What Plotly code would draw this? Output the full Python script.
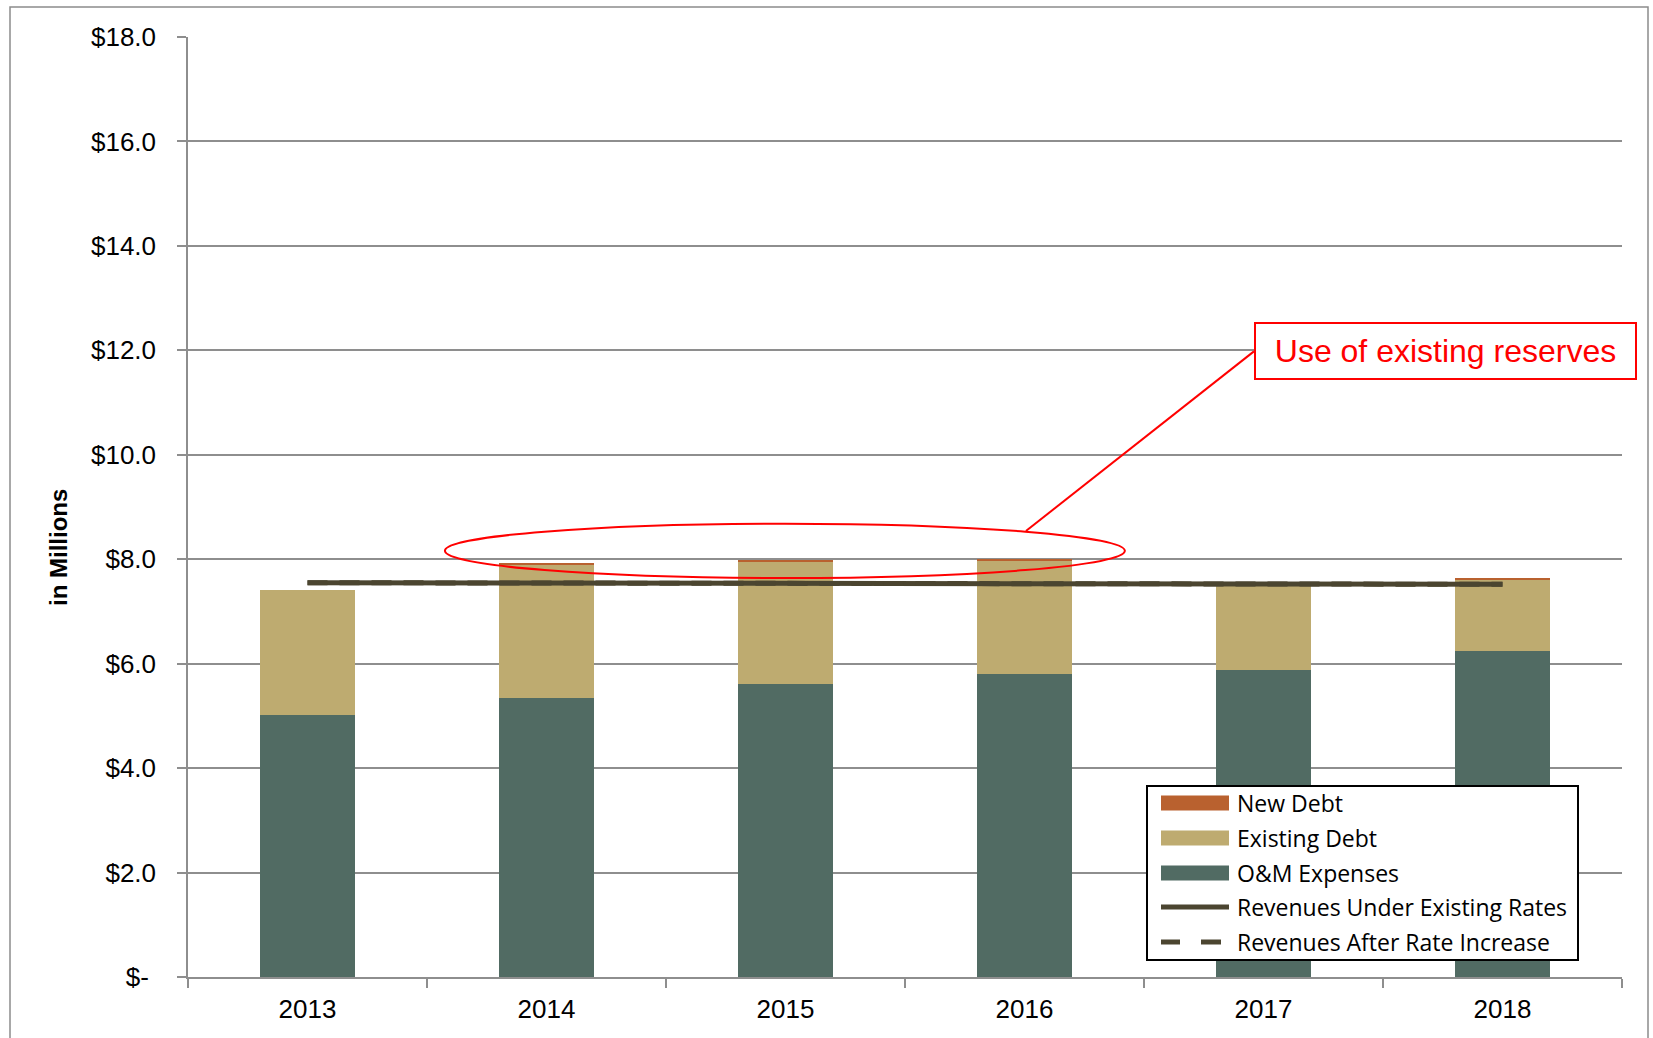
import plotly.graph_objects as go

# Cost components and revenues, in millions of dollars
years = ["2013", "2014", "2015", "2016", "2017", "2018"]
om_expenses = [5.02, 5.35, 5.61, 5.80, 5.88, 6.25]
existing_debt = [2.39, 2.55, 2.34, 2.17, 1.62, 1.37]
new_debt = [0.00, 0.02, 0.02, 0.02, 0.01, 0.03]
rev_existing_rates = [7.55, 7.54, 7.53, 7.53, 7.53, 7.52]
rev_after_increase = [7.55, 7.54, 7.53, 7.53, 7.53, 7.52]

y_tickvals = [0, 2, 4, 6, 8, 10, 12, 14, 16, 18]
y_ticktext = ["$-\u00a0", "$2.0", "$4.0", "$6.0", "$8.0", "$10.0",
              "$12.0", "$14.0", "$16.0", "$18.0"]

y_title = "in Millions"
callout_text = "Use of existing reserves"

C_OM = "#516B63"
C_EXIST = "#BEAB70"
C_NEW = "#B9612F"
C_REV = "#4B4530"
C_GRID = "#8E8E8E"

W, H = 1653, 1038
ML, MR, MT, MB = 188, 31, 37, 61
PW, PH = W - ML - MR, H - MT - MB


def px(x):
    """Horizontal page pixel -> paper fraction."""
    return (x - ML) / PW


def py(y):
    """Vertical page pixel -> paper fraction."""
    return (H - MB - y) / PH


fig = go.Figure()

fig.add_trace(go.Bar(x=years, y=om_expenses, name="O&M Expenses",
                     marker=dict(color=C_OM, line=dict(width=0)), width=0.4))
fig.add_trace(go.Bar(x=years, y=existing_debt, name="Existing Debt",
                     marker=dict(color=C_EXIST, line=dict(width=0)), width=0.4))
fig.add_trace(go.Bar(x=years, y=new_debt, name="New Debt",
                     marker=dict(color=C_NEW, line=dict(width=0)), width=0.4))
fig.add_trace(go.Scatter(x=years, y=rev_existing_rates, mode="lines",
                         name="Revenues Under Existing Rates",
                         line=dict(color=C_REV, width=5)))
fig.add_trace(go.Scatter(x=years, y=rev_after_increase, mode="lines",
                         name="Revenues After Rate Increase",
                         line=dict(color=C_REV, width=5, dash="20px,12px")))

tick_font = dict(family="Arial, Liberation Sans, sans-serif", size=26, color="#000000")

fig.update_layout(
    width=W, height=H,
    margin=dict(l=ML, r=MR, t=MT, b=MB),
    paper_bgcolor="white", plot_bgcolor="white",
    barmode="stack", bargap=0.6,
    showlegend=False,
    xaxis=dict(
        type="category", range=[-0.5, 5.5],
        showline=True, linecolor=C_GRID, linewidth=1.5,
        ticks="outside", tickson="boundaries", ticklen=9, tickwidth=1.5,
        tickcolor=C_GRID, tickfont=tick_font, ticklabelstandoff=8,
        showgrid=False, zeroline=False,
    ),
    yaxis=dict(
        range=[0, 18], tickvals=y_tickvals, ticktext=y_ticktext,
        showline=True, linecolor=C_GRID, linewidth=1.5,
        ticks="outside", ticklen=9, tickwidth=1.5, tickcolor=C_GRID,
        tickfont=tick_font, ticklabelstandoff=16,
        showgrid=True, gridcolor=C_GRID, gridwidth=1.5, zeroline=False,
    ),
)

shapes = []
annotations = []

# outer chart frame
shapes.append(dict(type="rect", xref="paper", yref="paper",
                   x0=px(10), x1=px(1648), y0=py(1060), y1=py(7),
                   line=dict(color="#8C8C8C", width=1.5), layer="below"))

# vertical axis title
annotations.append(dict(
    xref="paper", yref="paper", x=px(58), y=py(548),
    xanchor="center", yanchor="middle", showarrow=False, textangle=-90,
    text="<b>" + y_title + "</b>",
    font=dict(family="Arial, Liberation Sans, sans-serif", size=24, color="#000000"),
))

# highlight ellipse around the 2014-2016 bar tops and its leader line
shapes.append(dict(type="circle", xref="x", yref="y",
                   x0=0.575, x1=3.42, y0=7.64, y1=8.68,
                   line=dict(color="#FF0000", width=2)))
shapes.append(dict(type="line", xref="x", yref="y",
                   x0=3.006, y0=8.54, x1=3.96, y1=11.98,
                   line=dict(color="#FF0000", width=2)))

annotations.append(dict(
    xref="paper", yref="paper", x=px(1445.5), y=py(351),
    xanchor="center", yanchor="middle", showarrow=False,
    text=callout_text, width=379, height=54, borderpad=0,
    bordercolor="#FF0000", borderwidth=2, bgcolor="white",
    font=dict(family="Arial, Liberation Sans, sans-serif", size=32, color="#FF0000"),
))

# legend box
shapes.append(dict(type="rect", xref="paper", yref="paper",
                   x0=px(1147), x1=px(1578), y0=py(960), y1=py(786),
                   line=dict(color="#000000", width=2), fillcolor="white"))

legend_rows = [
    ("New Debt", "rect", C_NEW, 803),
    ("Existing Debt", "rect", C_EXIST, 838),
    ("O&M Expenses", "rect", C_OM, 873),
    ("Revenues Under Existing Rates", "solid", C_REV, 907),
    ("Revenues After Rate Increase", "dash", C_REV, 942),
]
for label, kind, color, yc in legend_rows:
    if kind == "rect":
        shapes.append(dict(type="rect", xref="paper", yref="paper",
                           x0=px(1161), x1=px(1229), y0=py(yc + 7.5), y1=py(yc - 7.5),
                           line=dict(width=0), fillcolor=color))
    elif kind == "solid":
        shapes.append(dict(type="line", xref="paper", yref="paper",
                           x0=px(1161), x1=px(1229), y0=py(yc), y1=py(yc),
                           line=dict(color=color, width=5)))
    else:
        for a, b in [(1161, 1180), (1201, 1221)]:
            shapes.append(dict(type="line", xref="paper", yref="paper",
                               x0=px(a), x1=px(b), y0=py(yc), y1=py(yc),
                               line=dict(color=color, width=5)))
    annotations.append(dict(
        xref="paper", yref="paper", x=px(1235), y=py(yc),
        xanchor="left", yanchor="middle", showarrow=False, text=label,
        font=dict(family="Open Sans, sans-serif", size=23, color="#000000"),
    ))

fig.update_layout(shapes=shapes, annotations=annotations)

fig.write_html("out.html")
